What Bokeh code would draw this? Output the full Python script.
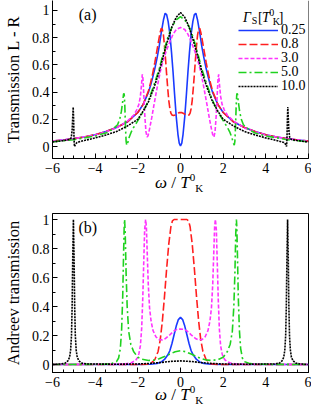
from bokeh.plotting import figure
from bokeh.models import FixedTicker, Label, Legend, LegendItem, Span, Range1d, Div
from bokeh.layouts import column
from bokeh.embed import file_html
from bokeh.resources import INLINE

FONT = "Liberation Serif"

# ---------------- data: panel (a) Transmission L - R ----------------
blue_a_x = [-6, -5.5, -5, -4.5, -4, -3.5, -3, -2.5, -2, -1.75, -1.5, -1.4, -1.3, -1.2, -1.1, -1.0, -0.9, -0.8, -0.72, -0.65,
            -0.58, -0.5, -0.42, -0.35, -0.28, -0.2, -0.12, -0.06, 0,
            0.06, 0.12, 0.2, 0.28, 0.35, 0.42, 0.5, 0.58, 0.65, 0.72, 0.8, 0.9, 1.0, 1.1, 1.2, 1.3, 1.4, 1.5, 1.75, 2,
            2.5, 3, 3.5, 4, 4.5, 5, 5.5, 6]
blue_a_y = [0.04, 0.048, 0.058, 0.07, 0.087, 0.11, 0.14, 0.18, 0.25, 0.31, 0.40, 0.45, 0.51, 0.575, 0.65, 0.735, 0.84, 0.93, 0.98, 0.97,
            0.92, 0.83, 0.69, 0.55, 0.39, 0.22, 0.09, 0.025, 0.005,
            0.025, 0.09, 0.22, 0.39, 0.55, 0.69, 0.83, 0.92, 0.97, 0.98, 0.93, 0.84, 0.735, 0.65, 0.575, 0.51, 0.45, 0.40, 0.31, 0.25,
            0.18, 0.14, 0.11, 0.087, 0.07, 0.058, 0.048, 0.04]

red_a_x = [-6, -5.5, -5, -4.5, -4, -3.5, -3, -2.5, -2, -1.75, -1.5, -1.4, -1.3, -1.2, -1.1, -1.0, -0.95, -0.9, -0.85, -0.8,
           -0.75, -0.7, -0.65, -0.6, -0.55, -0.5, -0.45, -0.4, -0.33, -0.25, -0.15, -0.07, 0,
           0.07, 0.15, 0.25, 0.33, 0.4, 0.45, 0.5, 0.55, 0.6, 0.65, 0.7, 0.75,
           0.8, 0.85, 0.9, 0.95, 1.0, 1.1, 1.2, 1.3, 1.4, 1.5, 1.75, 2, 2.5, 3, 3.5, 4, 4.5, 5, 5.5, 6]
red_a_y = [0.04, 0.048, 0.058, 0.07, 0.087, 0.11, 0.14, 0.18, 0.25, 0.31, 0.41, 0.47, 0.54, 0.62, 0.71, 0.80, 0.84, 0.87, 0.86, 0.82,
           0.74, 0.64, 0.53, 0.43, 0.34, 0.28, 0.245, 0.232, 0.228, 0.232, 0.243, 0.249, 0.25,
           0.249, 0.243, 0.232, 0.228, 0.232, 0.245, 0.28, 0.34, 0.43, 0.53, 0.64, 0.74,
           0.82, 0.86, 0.87, 0.84, 0.80, 0.71, 0.62, 0.54, 0.47, 0.41, 0.31, 0.25, 0.18, 0.14, 0.11, 0.087, 0.07, 0.058, 0.048, 0.04]

mag_a_x = [-6, -5, -4, -3.5, -3, -2.5, -2.2, -2.05, -1.95, -1.88, -1.83, -1.79, -1.76, -1.72, -1.67, -1.62, -1.57, -1.52, -1.45, -1.35,
           -1.25, -1.1, -0.95, -0.8, -0.65, -0.5, -0.35, -0.2, 0,
           0.2, 0.35, 0.5, 0.65, 0.8, 0.95, 1.1, 1.25,
           1.35, 1.45, 1.52, 1.57, 1.62, 1.67, 1.72, 1.76, 1.79, 1.83, 1.88, 1.95, 2.05, 2.2, 2.5, 3, 3.5, 4, 5, 6]
mag_a_y = [0.04, 0.057, 0.085, 0.108, 0.137, 0.185, 0.23, 0.27, 0.31, 0.37, 0.45, 0.53, 0.5, 0.38, 0.22, 0.11, 0.07, 0.08, 0.13, 0.21,
           0.3, 0.43, 0.55, 0.64, 0.71, 0.77, 0.825, 0.86, 0.875,
           0.86, 0.825, 0.77, 0.71, 0.64, 0.55, 0.43, 0.3,
           0.21, 0.13, 0.08, 0.07, 0.11, 0.22, 0.38, 0.5, 0.53, 0.45, 0.37, 0.31, 0.27, 0.23, 0.185, 0.137, 0.108, 0.085, 0.057, 0.04]

grn_a_x = [-6, -5, -4, -3.5, -3.2, -2.95, -2.85, -2.77, -2.71, -2.67, -2.64, -2.61, -2.58, -2.55, -2.52, -2.47, -2.4, -2.3, -2.2, -2.0,
           -1.75, -1.5, -1.25, -1.0, -0.8, -0.6, -0.4, -0.2, 0,
           0.2, 0.4, 0.6, 0.8, 1.0, 1.25, 1.5, 1.75,
           2.0, 2.2, 2.3, 2.4, 2.47, 2.52, 2.55, 2.58, 2.61, 2.64, 2.67, 2.71, 2.77, 2.85, 2.95, 3.2, 3.5, 4, 5, 6]
grn_a_y = [0.035, 0.05, 0.078, 0.1, 0.125, 0.16, 0.2, 0.26, 0.33, 0.385, 0.39, 0.3, 0.15, 0.04, 0.01, 0.03, 0.07, 0.11, 0.14, 0.19,
           0.255, 0.34, 0.45, 0.57, 0.69, 0.8, 0.88, 0.93, 0.955,
           0.93, 0.88, 0.8, 0.69, 0.57, 0.45, 0.34, 0.255,
           0.19, 0.14, 0.11, 0.07, 0.03, 0.01, 0.04, 0.15, 0.3, 0.39, 0.385, 0.33, 0.26, 0.2, 0.16, 0.125, 0.1, 0.078, 0.05, 0.035]

blk_a_x = [-6, -5.5, -5.2, -5.12, -5.08, -5.05, -5.03, -5.01, -4.99, -4.97, -4.93, -4.85, -4.5, -4, -3.5, -3, -2.5, -2, -1.75, -1.5,
           -1.25, -1.0, -0.8, -0.6, -0.4, -0.2, 0,
           0.2, 0.4, 0.6, 0.8, 1.0, 1.25,
           1.5, 1.75, 2, 2.5, 3, 3.5, 4, 4.5, 4.85, 4.93, 4.97, 4.99, 5.01, 5.03, 5.05, 5.08, 5.12, 5.2, 5.5, 6]
blk_a_y = [0.033, 0.043, 0.052, 0.065, 0.12, 0.22, 0.29, 0.2, 0.05, 0.0, 0.015, 0.03, 0.045, 0.063, 0.085, 0.11, 0.15, 0.2, 0.26, 0.33,
           0.43, 0.55, 0.67, 0.78, 0.88, 0.95, 0.985,
           0.95, 0.88, 0.78, 0.67, 0.55, 0.43,
           0.33, 0.26, 0.2, 0.15, 0.11, 0.085, 0.063, 0.045, 0.03, 0.015, 0.0, 0.05, 0.2, 0.29, 0.22, 0.12, 0.065, 0.052, 0.043, 0.033]

# ---------------- data: panel (b) Andreev transmission ----------------
blue_b_x = [-6, -2, -1.4, -1.1, -0.9, -0.75, -0.6, -0.5, -0.4, -0.3, -0.2, -0.1, 0,
            0.1, 0.2, 0.3, 0.4, 0.5, 0.6, 0.75, 0.9, 1.1, 1.4, 2, 6]
blue_b_y = [0.0, 0.0, 0.002, 0.007, 0.018, 0.035, 0.065, 0.095, 0.145, 0.205, 0.265, 0.31, 0.325,
            0.31, 0.265, 0.205, 0.145, 0.095, 0.065, 0.035, 0.018, 0.007, 0.002, 0.0, 0.0]

red_b_x = [-6, -2, -1.6, -1.4, -1.2, -1.05, -0.95, -0.85, -0.75, -0.65, -0.55, -0.45, -0.38, -0.3, -0.15, 0,
           0.15, 0.3, 0.38, 0.45, 0.55, 0.65, 0.75, 0.85, 0.95, 1.05, 1.2, 1.4, 1.6, 2, 6]
red_b_y = [0.0, 0.0, 0.002, 0.006, 0.035, 0.09, 0.17, 0.3, 0.47, 0.66, 0.83, 0.95, 0.99, 1.0, 1.0, 1.0,
           1.0, 1.0, 0.99, 0.95, 0.83, 0.66, 0.47, 0.3, 0.17, 0.09, 0.035, 0.006, 0.002, 0.0, 0.0]

mag_b_x = [-6, -2.6, -2.3, -2.1, -2.0, -1.95, -1.88, -1.82, -1.77, -1.72, -1.68, -1.635, -1.6, -1.56, -1.51, -1.45, -1.38, -1.29, -1.15, -1.0,
           -0.85, -0.7, -0.5, -0.3, -0.15, 0,
           0.15, 0.3, 0.5, 0.7, 0.85,
           1.0, 1.15, 1.29, 1.38, 1.45, 1.51, 1.56, 1.6, 1.635, 1.68, 1.72, 1.77, 1.82, 1.88, 1.95, 2.0, 2.1, 2.3, 2.6, 6]
mag_b_y = [0.0, 0.003, 0.012, 0.03, 0.05, 0.075, 0.13, 0.25, 0.45, 0.72, 0.93, 1.0, 0.95, 0.77, 0.55, 0.39, 0.3, 0.235, 0.19, 0.172,
           0.17, 0.18, 0.205, 0.232, 0.243, 0.245,
           0.243, 0.232, 0.205, 0.18, 0.17,
           0.172, 0.19, 0.235, 0.3, 0.39, 0.55, 0.77, 0.95, 1.0, 0.93, 0.72, 0.45, 0.25, 0.13, 0.075, 0.05, 0.03, 0.012, 0.003, 0.0]

grn_b_x = [-6, -3.5, -3.2, -3.0, -2.9, -2.82, -2.76, -2.71, -2.67, -2.64, -2.62, -2.59, -2.55, -2.5, -2.43, -2.33, -2.2, -2.0, -1.8, -1.5,
           -1.25, -1.0, -0.75, -0.5, -0.25, 0,
           0.25, 0.5, 0.75, 1.0, 1.25,
           1.5, 1.8, 2.0, 2.2, 2.33, 2.43, 2.5, 2.55, 2.59, 2.62, 2.64, 2.67, 2.71, 2.76, 2.82, 2.9, 3.0, 3.2, 3.5, 6]
grn_b_y = [0.0, 0.002, 0.008, 0.02, 0.045, 0.11, 0.24, 0.46, 0.75, 0.95, 1.0, 0.9, 0.63, 0.4, 0.23, 0.14, 0.09, 0.05, 0.037, 0.028,
           0.03, 0.04, 0.055, 0.072, 0.088, 0.095,
           0.088, 0.072, 0.055, 0.04, 0.03,
           0.028, 0.037, 0.05, 0.09, 0.14, 0.23, 0.4, 0.63, 0.9, 1.0, 0.95, 0.75, 0.46, 0.24, 0.11, 0.045, 0.02, 0.008, 0.002, 0.0]

blk_b_x = [-6, -5.6, -5.4, -5.28, -5.2, -5.15, -5.11, -5.08, -5.05, -5.02, -4.99, -4.96, -4.93, -4.89, -4.84, -4.76, -4.64, -4.4, -3, -2,
           -1.5, -1, -0.5, 0, 0.5, 1, 1.5,
           2, 3, 4.4, 4.64, 4.76, 4.84, 4.89, 4.93, 4.96, 4.99, 5.02, 5.05, 5.08, 5.11, 5.15, 5.2, 5.28, 5.4, 5.6, 6]
blk_b_y = [0.0, 0.004, 0.01, 0.025, 0.05, 0.1, 0.2, 0.4, 0.75, 1.0, 0.75, 0.4, 0.2, 0.1, 0.05, 0.025, 0.01, 0.004, 0.002, 0.004,
           0.007, 0.013, 0.021, 0.025, 0.021, 0.013, 0.007,
           0.004, 0.002, 0.004, 0.01, 0.025, 0.05, 0.1, 0.2, 0.4, 0.75, 1.0, 0.75, 0.4, 0.2, 0.1, 0.05, 0.025, 0.01, 0.004, 0.0]

series_labels = ["0.25", "0.8", "3.0", "5.0", "10.0"]
x_ticks = [-6, -4, -2, 0, 2, 4, 6]
x_tick_labels = ["\u22126", "\u22124", "\u22122", "0", "2", "4", "6"]
x_minor = [-6, -5.5, -5, -4.5, -4, -3.5, -3, -2.5, -2, -1.5, -1, -0.5, 0, 0.5, 1, 1.5, 2, 2.5, 3, 3.5, 4, 4.5, 5, 5.5, 6]
y_ticks = [0, 0.2, 0.4, 0.6, 0.8, 1]
y_tick_labels = ["0", "0.2", "0.4", "0.6", "0.8", "1"]
y_minor = [0, 0.1, 0.2, 0.3, 0.4, 0.5, 0.6, 0.7, 0.8, 0.9, 1.0]

colors = ["#1a3aff", "#ff1f1f", "#ff33ff", "#1fd21f", "#000000"]
dashes = ["solid", "8 3", "4 2", "8 3 2 3", "2 1"]
widths = [1.6, 1.6, 1.6, 1.6, 1.6]
# vertical offsets (px from frame bottom) of the five legend rows
legend_rows = [120, 106, 92, 78, 64]


def style(p, ylabel):
    p.xaxis.ticker = FixedTicker(ticks=x_ticks, minor_ticks=x_minor)
    p.yaxis.ticker = FixedTicker(ticks=y_ticks, minor_ticks=y_minor)
    p.xaxis.major_label_overrides = dict(zip(x_ticks, x_tick_labels))
    p.yaxis.major_label_overrides = dict(zip(y_ticks, y_tick_labels))
    for ax in (p.xaxis[0], p.yaxis[0]):
        ax.major_tick_in = 5
        ax.major_tick_out = 0
        ax.minor_tick_in = 3
        ax.minor_tick_out = 0
        ax.axis_line_color = "black"
        ax.major_tick_line_color = "black"
        ax.minor_tick_line_color = "black"
        ax.major_label_text_font = FONT
        ax.major_label_text_font_size = "14px"
        ax.major_label_text_color = "black"
    p.xaxis.major_label_standoff = 4
    p.yaxis.major_label_standoff = 3
    p.yaxis.axis_label = ylabel
    p.yaxis.axis_label_text_font = FONT
    p.yaxis.axis_label_text_font_size = "16.5px"
    p.yaxis.axis_label_text_font_style = "normal"
    p.yaxis.axis_label_text_color = "black"
    p.yaxis.axis_label_standoff = 6
    p.xgrid.visible = False
    p.ygrid.visible = False


def xlabel_div(height, top):
    html = ("<div style=\"position:relative; left:155px; top:%dpx; white-space:nowrap; "
            "font-family:'Liberation Serif'; font-size:17px; line-height:17px; color:black;\">"
            "<i>\u03c9</i> / <i>T</i><sup style=\"font-size:11px; line-height:0;\">0</sup>"
            "<sub style=\"font-size:11px; line-height:0;\">K</sub></div>") % top
    return Div(text=html, width=311, height=height, margin=0)


def draw(p, data):
    rs = []
    for (xs, ys), c, d, w in zip(data, colors, dashes, widths):
        rs.append(p.line(xs, ys, line_color=c, line_dash=d, line_width=w))
    return rs


# ---------------- panel (a) ----------------
p1 = figure(width=311, height=180, output_backend="svg", toolbar_location=None,
            x_range=Range1d(-6, 6), y_range=Range1d(-0.088, 1.0735),
            min_border_left=46, min_border_right=2, min_border_top=0, min_border_bottom=22,
            background_fill_color="white", border_fill_color="white", margin=0)
p1.outline_line_color = None
style(p1, "Transmission L - R")
r1 = draw(p1, [(blue_a_x, blue_a_y), (red_a_x, red_a_y), (mag_a_x, mag_a_y),
               (grn_a_x, grn_a_y), (blk_a_x, blk_a_y)])
p1.add_layout(Span(location=6, dimension="height", line_color="black", line_width=1))
p1.add_layout(Label(x=-4.77, y=0.97, text="(a)", text_font=FONT, text_font_size="16px",
                    text_baseline="alphabetic", text_color="black"))

# one single-row legend per series so the row spacing matches the original
for lab, r, row in zip(series_labels, r1, legend_rows):
    lg = Legend(items=[LegendItem(label=lab, renderers=[r])],
                location=(186, row), glyph_width=40, glyph_height=14, label_height=14,
                label_standoff=3, spacing=0, padding=0, margin=0,
                border_line_alpha=0, background_fill_alpha=0,
                label_text_font=FONT, label_text_font_size="14px", label_text_color="black")
    p1.add_layout(lg)

# legend title "Γ_S [T^0_K]"
title_parts = [("\u0393", 2.93, 0.948, "14px", "italic"),
               ("S", 3.34, 0.925, "10px", "normal"),
               ("[", 3.63, 0.948, "14px", "normal"),
               ("T", 3.82, 0.948, "14px", "italic"),
               ("0", 4.16, 0.985, "10px", "normal"),
               ("K", 4.33, 0.918, "10px", "normal"),
               ("]", 4.6, 0.948, "14px", "normal")]
for t, x, y, fs, st in title_parts:
    p1.add_layout(Label(x=x, y=y, text=t, text_font=FONT, text_font_size=fs, text_font_style=st,
                        text_baseline="alphabetic", text_align="left", text_color="black"))

# ---------------- panel (b) ----------------
p2 = figure(width=311, height=196, output_backend="svg", toolbar_location=None,
            x_range=Range1d(-6, 6), y_range=Range1d(-0.055, 1.0414),
            min_border_left=46, min_border_right=3, min_border_top=15, min_border_bottom=22,
            background_fill_color="white", border_fill_color="white", margin=0)
p2.outline_line_color = "black"
style(p2, "Andreev transmission")
draw(p2, [(blue_b_x, blue_b_y), (red_b_x, red_b_y), (mag_b_x, mag_b_y),
          (grn_b_x, grn_b_y), (blk_b_x, blk_b_y)])
p2.add_layout(Label(x=-4.78, y=0.945, text="(b)", text_font=FONT, text_font_size="16px",
                    text_baseline="alphabetic", text_color="black"))

layout = column(p1, xlabel_div(18, -6), p2, xlabel_div(15, -8), spacing=0)

open("out.html", "w").write(file_html(layout, INLINE))
